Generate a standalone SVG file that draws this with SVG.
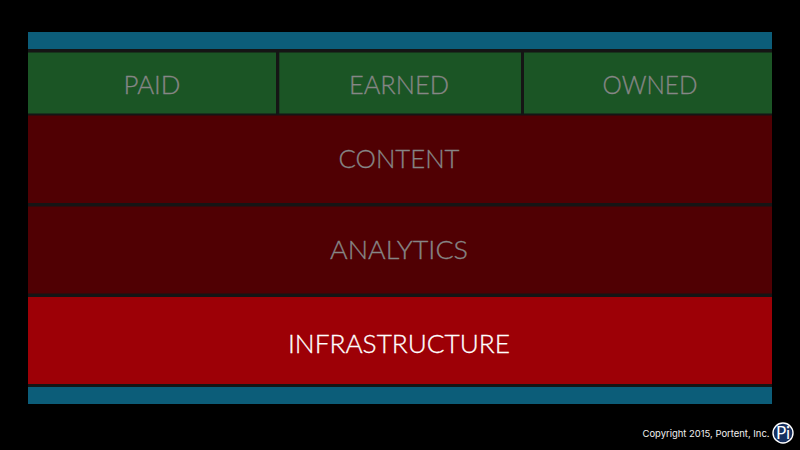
<svg xmlns="http://www.w3.org/2000/svg" width="800" height="450" viewBox="0 0 800 450">
<style>
.lbl{font-family:"Lato","Liberation Sans",sans-serif;font-weight:300;font-size:25px;text-anchor:middle;fill:#868686;stroke:#868686;stroke-width:.3px}
.wht{fill:#fff;stroke:#fff}
.teal{fill:#0c5d79}.green{fill:#1b5525}.dark{fill:#500003}.bright{fill:#9d0006}
</style>
<rect width="800" height="450" fill="#000"/>
<rect x="28" y="49" width="744" height="338" fill="#151515"/>
<g id="top-bar"><rect class="teal" x="28" y="32" width="744" height="17"/></g>
<g id="paid"><rect class="green" x="28" y="52.5" width="248" height="61"/><text class="lbl" x="152" y="93.5" textLength="57" lengthAdjust="spacingAndGlyphs">PAID</text></g>
<g id="earned"><rect class="green" x="279.3" y="52.5" width="241.7" height="61"/><text class="lbl" x="399" y="93.5" textLength="100" lengthAdjust="spacingAndGlyphs">EARNED</text></g>
<g id="owned"><rect class="green" x="524" y="52.5" width="248" height="61"/><text class="lbl" x="650" y="93.5" textLength="95" lengthAdjust="spacingAndGlyphs">OWNED</text></g>
<g id="content"><rect class="dark" x="28" y="115.5" width="744" height="87.5"/><text class="lbl" x="399" y="167.5" textLength="121" lengthAdjust="spacingAndGlyphs">CONTENT</text></g>
<g id="analytics"><rect class="dark" x="28" y="206.5" width="744" height="87"/><text class="lbl" x="399" y="259" textLength="138" lengthAdjust="spacingAndGlyphs">ANALYTICS</text></g>
<g id="infrastructure"><rect class="bright" x="28" y="297" width="744" height="87"/><text class="lbl wht" x="399" y="353" textLength="222" lengthAdjust="spacingAndGlyphs">INFRASTRUCTURE</text></g>
<g id="bottom-bar"><rect class="teal" x="28" y="387" width="744" height="17"/></g>
<g id="copyright"><text x="769.5" y="437" text-anchor="end" font-family="Inter,'Liberation Sans',sans-serif" font-size="9.5" fill="#f0f0f0" textLength="127" lengthAdjust="spacingAndGlyphs">Copyright 2015, Portent, Inc.</text></g>
<g id="logo"><circle cx="783" cy="433" r="10" fill="#17305f" stroke="#fff" stroke-width="1.4"/><text x="783" y="439" text-anchor="middle" font-family="Lato,'Liberation Sans',sans-serif" font-size="17" fill="#fff">Pi</text></g>
</svg>
